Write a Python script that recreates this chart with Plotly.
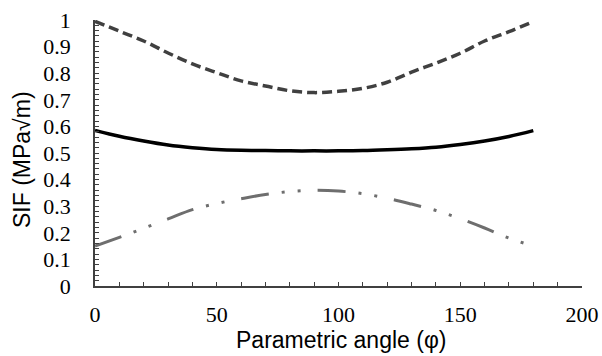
import plotly.graph_objects as go

angle = [0, 10, 20, 30, 40, 50, 60, 70, 80, 90, 100, 110, 120, 130, 140, 150, 160, 170, 180]
sif_dashed = [0.995, 0.958, 0.921, 0.876, 0.835, 0.802, 0.771, 0.752, 0.734, 0.727, 0.732, 0.743, 0.766, 0.804, 0.838, 0.875, 0.921, 0.956, 0.994]
sif_solid = [0.585, 0.563, 0.545, 0.530, 0.520, 0.513, 0.510, 0.509, 0.508, 0.508, 0.508, 0.509, 0.512, 0.516, 0.522, 0.532, 0.545, 0.562, 0.584]
sif_dashdot = [0.150, 0.183, 0.217, 0.252, 0.287, 0.310, 0.328, 0.344, 0.355, 0.360, 0.357, 0.347, 0.330, 0.308, 0.284, 0.253, 0.218, 0.180, 0.150]

x_ticks = [0, 50, 100, 150, 200]
y_ticks = [0, 0.1, 0.2, 0.3, 0.4, 0.5, 0.6, 0.7, 0.8, 0.9, 1]
y_labels = ["0", "0.1", "0.2", "0.3", "0.4", "0.5", "0.6", "0.7", "0.8", "0.9", "1"]
x_title = "Parametric angle (φ)"
y_title = "SIF (MPa√m)"

fig = go.Figure()
fig.add_trace(go.Scatter(x=angle, y=sif_dashed, mode="lines", line_shape="spline",
                         line=dict(color="#404040", width=3.5, dash="10px,5px"), showlegend=False))
fig.add_trace(go.Scatter(x=angle, y=sif_solid, mode="lines", line_shape="spline",
                         line=dict(color="#000000", width=3.5), showlegend=False))
fig.add_trace(go.Scatter(x=angle, y=sif_dashdot, mode="lines", line_shape="spline",
                         line=dict(color="#6e6e6e", width=3, dash="28px,13px,3px,13px,3px,17px"), showlegend=False))

axis_color = "#404040"
title_font = dict(family="Liberation Sans", size=23, color="#000000")
fig.update_layout(
    width=602, height=356,
    margin=dict(l=95, r=20, t=20, b=70),
    paper_bgcolor="white", plot_bgcolor="white",
    font=dict(family="Liberation Serif", size=22, color="#000000"),
    xaxis=dict(
        range=[0, 200], tickvals=x_ticks, ticktext=[str(v) for v in x_ticks],
        automargin=False, ticklabeloverflow="allow",
        showgrid=False, zeroline=False, showline=True, linecolor=axis_color, linewidth=1.5,
        ticks="inside", ticklen=4, tickcolor=axis_color, tickwidth=1.2,
        minor=dict(ticks="inside", dtick=10, ticklen=4, tickcolor=axis_color, tickwidth=1.2),
        ticklabelstandoff=8,
    ),
    yaxis=dict(
        range=[0, 1], tickvals=y_ticks, ticktext=y_labels,
        automargin=False, ticklabeloverflow="allow",
        showgrid=False, zeroline=False, showline=True, linecolor=axis_color, linewidth=1.5,
        ticks="inside", ticklen=4, tickcolor=axis_color, tickwidth=1.2,
        minor=dict(ticks="inside", dtick=0.02, ticklen=4, tickcolor=axis_color, tickwidth=1.2),
        ticklabelstandoff=18,
    ),
    annotations=[
        dict(text=x_title, xref="paper", yref="paper", x=0.5, y=0, xanchor="center", yanchor="middle",
             xshift=2, yshift=-54, showarrow=False, font=title_font),
        dict(text=y_title, xref="paper", yref="paper", x=0, y=0.5, xanchor="center", yanchor="middle",
             xshift=-73, yshift=-7, textangle=-90, showarrow=False, font=title_font),
    ],
)

fig.write_html(
    "out.html",
    config={"displayModeBar": False},
    post_script="document.body.style.margin='0';document.body.style.overflow='hidden';",
)
